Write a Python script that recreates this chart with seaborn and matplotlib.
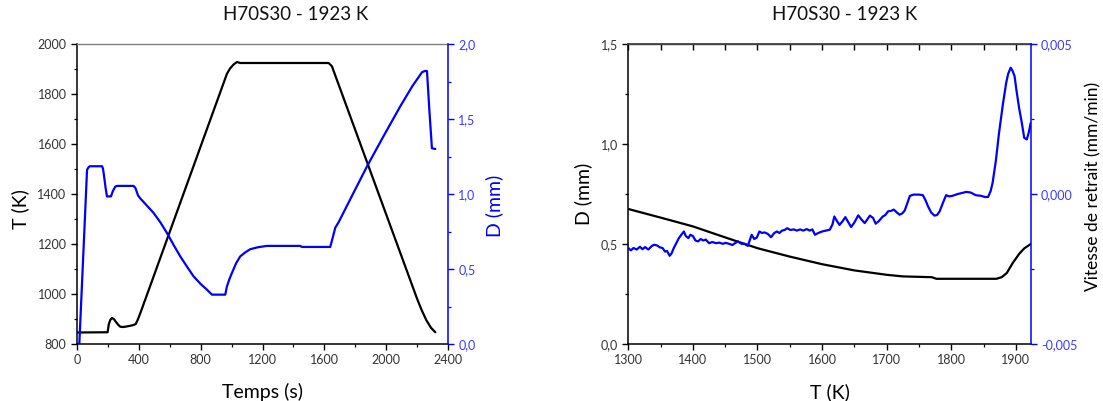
import numpy as np
import pandas as pd
import matplotlib
matplotlib.use("Agg")
import matplotlib.pyplot as plt
import seaborn as sns
from matplotlib.ticker import MultipleLocator, FuncFormatter

# ---------------- data ----------------
# Left panel: temperature vs time
time_T = [0, 198, 206, 216, 226, 238, 250, 265, 280, 300, 320, 345, 366, 380, 395, 410,
          970, 990, 1013, 1035, 1056, 1628, 1649, 2200, 2230, 2260, 2290, 2318]
temp_T = [846, 847, 880, 897, 904, 900, 890, 878, 869, 868, 870, 873, 876, 880, 900, 924,
          1881, 1902, 1918, 1928, 1924, 1924, 1911, 981, 935, 895, 865, 847]

# Left panel: displacement D vs time
time_D = [10, 15, 40, 65, 75, 82, 162, 168, 175, 185, 194, 220, 232, 248, 262, 366, 378, 395,
          409, 450, 496, 540, 582, 625, 668, 712, 754, 800, 841, 873, 959, 970, 985, 1002,
          1030, 1056, 1090, 1121, 1170, 1229, 1444, 1455, 1638, 1652, 1671, 1693, 1780,
          1876, 1980, 2091, 2170, 2232, 2250, 2264, 2280, 2296, 2318]
D_time = [0.0, 0.0, 0.58, 1.162, 1.178, 1.185, 1.185, 1.17, 1.12, 1.04, 0.984, 0.984, 1.02,
          1.05, 1.054, 1.054, 1.04, 0.99, 0.971, 0.925, 0.873, 0.81, 0.74, 0.66, 0.584,
          0.515, 0.451, 0.40, 0.362, 0.329, 0.329, 0.384, 0.43, 0.473, 0.54, 0.584, 0.612,
          0.632, 0.645, 0.654, 0.654, 0.647, 0.647, 0.70, 0.776, 0.813, 0.99, 1.184, 1.38,
          1.584, 1.72, 1.812, 1.82, 1.82, 1.55, 1.305, 1.30]

# Right panel: D vs T
T_D = [1300, 1350, 1400, 1450, 1500, 1550, 1600, 1650, 1700, 1725, 1770, 1777, 1800, 1870,
       1878, 1886, 1895, 1905, 1913, 1923]
D_T = [0.675, 0.632, 0.588, 0.533, 0.479, 0.437, 0.399, 0.368, 0.346, 0.338, 0.334, 0.326,
       0.326, 0.326, 0.334, 0.355, 0.404, 0.45, 0.478, 0.50]

# Right panel: shrinkage rate vs T (values in 1e-3 mm/min)
T_rate = [1300, 1304, 1308, 1313, 1318, 1322, 1326, 1331, 1336, 1340, 1345, 1349, 1353, 1357,
          1360, 1364, 1367, 1370, 1374, 1378, 1382, 1386, 1389, 1393, 1396, 1400, 1404, 1408,
          1412, 1416, 1420, 1425, 1430, 1436, 1441, 1446, 1451, 1456, 1461, 1466, 1470, 1475,
          1480, 1485, 1488, 1491, 1495, 1499, 1503, 1507, 1511, 1516, 1521, 1526, 1530, 1534,
          1538, 1542, 1546, 1551, 1556, 1561, 1566, 1571, 1576, 1581, 1585, 1589, 1594, 1600,
          1606, 1612, 1616, 1619, 1623, 1627, 1632, 1636, 1640, 1645, 1650, 1656, 1661, 1666,
          1670, 1674, 1679, 1683, 1688, 1694, 1698, 1702, 1707, 1711, 1716, 1720, 1724, 1728,
          1732, 1736, 1742, 1750, 1756, 1760, 1764, 1769, 1774, 1778, 1782, 1787, 1792, 1797,
          1802, 1810, 1818, 1823, 1830, 1838, 1846, 1852, 1857, 1861, 1864, 1869, 1874, 1880,
          1885, 1888, 1892, 1895, 1898, 1901, 1905, 1909, 1913, 1917, 1920, 1923]
rate_1e3 = [-1.80, -1.88, -1.80, -1.85, -1.76, -1.84, -1.77, -1.85, -1.74, -1.69, -1.72, -1.78,
            -1.80, -1.92, -1.90, -2.06, -1.98, -1.82, -1.65, -1.48, -1.36, -1.25, -1.40, -1.47,
            -1.36, -1.40, -1.55, -1.58, -1.50, -1.55, -1.52, -1.64, -1.60, -1.64, -1.62, -1.66,
            -1.63, -1.66, -1.70, -1.63, -1.58, -1.66, -1.66, -1.73, -1.55, -1.36, -1.50, -1.45,
            -1.25, -1.30, -1.28, -1.33, -1.44, -1.30, -1.25, -1.30, -1.22, -1.20, -1.14, -1.20,
            -1.18, -1.22, -1.18, -1.22, -1.17, -1.22, -1.18, -1.36, -1.30, -1.25, -1.22, -1.19,
            -1.02, -0.75, -0.90, -1.03, -0.90, -0.77, -0.92, -1.10, -0.95, -0.71, -0.85, -0.97,
            -0.85, -0.72, -0.80, -0.99, -0.90, -0.75, -0.70, -0.58, -0.56, -0.52, -0.62, -0.69,
            -0.65, -0.55, -0.30, -0.06, -0.02, -0.02, -0.04, -0.20, -0.41, -0.62, -0.72, -0.70,
            -0.58, -0.30, -0.04, -0.08, -0.06, 0.00, 0.04, 0.07, 0.05, -0.04, -0.06, -0.10,
            -0.10, 0.10, 0.37, 1.10, 2.04, 3.00, 3.70, 4.00, 4.21, 4.10, 3.93, 3.45, 2.87, 2.40,
            1.87, 1.82, 2.05, 2.37]

title = "H70S30 - 1923 K"

# ---------------- style ----------------
sns.set_theme(style="ticks")
plt.rcParams["font.family"] = ["Lato", "DejaVu Sans"]
BLUE = "#0000ff"
BLUE_TXT = "#3a3aff"
TICK_TXT = "#333333"
TICK_FS = 9
LAB_FS = 14

fig = plt.figure(figsize=(11.03, 4.01), dpi=100)
W, H = 1103, 401
ax1 = fig.add_axes([77 / W, 1 - 344 / H, 371 / W, 300 / H])
ax2 = fig.add_axes([628.3 / W, 1 - 344 / H, 402.4 / W, 300 / H])
ax1b = ax1.twinx()
ax2b = ax2.twinx()

comma1 = FuncFormatter(lambda v, p: f"{v:.1f}".replace(".", ","))
comma0 = FuncFormatter(lambda v, p: f"{v:.0f}")
comma3 = FuncFormatter(lambda v, p: f"{(0.0 if abs(v) < 1e-12 else v):.3f}".replace(".", ","))

# ---------------- left panel ----------------
df_T = pd.DataFrame({"t": time_T, "T": temp_T})
df_D = pd.DataFrame({"t": time_D, "D": D_time})
sns.lineplot(data=df_T, x="t", y="T", ax=ax1, color="black", lw=1.6, sort=False, estimator=None)
sns.lineplot(data=df_D, x="t", y="D", ax=ax1b, color=BLUE, lw=1.6, sort=False, estimator=None)

ax1.set_xlim(0, 2400)
ax1.set_ylim(800, 2000)
ax1b.set_ylim(0, 2.0)
ax1.xaxis.set_major_locator(MultipleLocator(400))
ax1.xaxis.set_minor_locator(MultipleLocator(200))
ax1.yaxis.set_major_locator(MultipleLocator(200))
ax1.yaxis.set_minor_locator(MultipleLocator(100))
ax1.yaxis.set_major_formatter(comma0)
ax1b.yaxis.set_major_locator(MultipleLocator(0.5))
ax1b.yaxis.set_minor_locator(MultipleLocator(0.25))
ax1b.yaxis.set_major_formatter(comma1)

ax1.set_xlabel("Temps (s)", fontsize=LAB_FS, color="black")
ax1.set_ylabel("T (K)", fontsize=LAB_FS, color="black")
ax1b.set_ylabel("D (mm)", fontsize=LAB_FS, color=BLUE)
ax1.xaxis.set_label_coords(0.5, -0.13)
ax1.yaxis.set_label_coords(-0.13, 0.45)
ax1b.yaxis.set_label_coords(1.10, 0.46)
ax1.set_title(title, fontsize=13.5, x=0.588, pad=17, color="#111111")

ax1.tick_params(which="both", direction="out", colors="black", labelcolor=TICK_TXT,
                labelsize=TICK_FS, top=False, right=False)
ax1.tick_params(which="major", length=4, width=1)
ax1.tick_params(which="minor", length=2.5, width=0.9)
ax1b.tick_params(which="both", direction="out", colors=BLUE, labelcolor=BLUE_TXT, labelsize=TICK_FS)
ax1b.tick_params(which="major", length=4, width=1)
ax1b.tick_params(which="minor", length=2.5, width=0.9)

for s in ("left", "bottom"):
    ax1.spines[s].set_color("black")
    ax1.spines[s].set_linewidth(1.1)
ax1.spines["top"].set_color("#808080")
ax1.spines["top"].set_linewidth(1.0)
ax1.spines["right"].set_visible(False)
for s in ("left", "bottom", "top"):
    ax1b.spines[s].set_visible(False)
ax1b.spines["right"].set_color(BLUE)
ax1b.spines["right"].set_linewidth(1.1)

# ---------------- right panel ----------------
df_DT = pd.DataFrame({"T": T_D, "D": D_T})
df_rate = pd.DataFrame({"T": T_rate, "rate": np.array(rate_1e3) * 1e-3})
sns.lineplot(data=df_DT, x="T", y="D", ax=ax2, color="black", lw=1.6, sort=False, estimator=None)
sns.lineplot(data=df_rate, x="T", y="rate", ax=ax2b, color=BLUE, lw=1.6, sort=False, estimator=None)

ax2.set_xlim(1300, 1923)
ax2.set_ylim(0, 1.5)
ax2b.set_ylim(-0.005, 0.005)
ax2.xaxis.set_major_locator(MultipleLocator(100))
ax2.xaxis.set_minor_locator(MultipleLocator(50))
ax2.yaxis.set_major_locator(MultipleLocator(0.5))
ax2.yaxis.set_minor_locator(MultipleLocator(0.25))
ax2.yaxis.set_major_formatter(comma1)
ax2b.yaxis.set_major_locator(MultipleLocator(0.005))
ax2b.yaxis.set_minor_locator(MultipleLocator(0.0025))
ax2b.yaxis.set_major_formatter(comma3)

ax2.set_xlabel("T (K)", fontsize=LAB_FS, color="black")
ax2.set_ylabel("D (mm)", fontsize=LAB_FS, color="black")
ax2b.set_ylabel("Vitesse de retrait (mm/min)", fontsize=12.5, color="black")
ax2.xaxis.set_label_coords(0.5, -0.13)
ax2.yaxis.set_label_coords(-0.09, 0.5)
ax2b.yaxis.set_label_coords(1.135, 0.525)
ax2.set_title(title, fontsize=13.5, x=0.537, pad=17, color="#111111")

ax2.tick_params(which="both", direction="out", colors="black", labelcolor=TICK_TXT,
                labelsize=TICK_FS, top=False, right=False)
ax2.tick_params(which="major", length=4, width=1)
ax2.tick_params(which="minor", length=2.5, width=0.9)
ax2b.tick_params(which="both", direction="out", colors=BLUE, labelcolor=BLUE_TXT, labelsize=TICK_FS)
ax2b.tick_params(which="major", length=4, width=1)
ax2b.tick_params(which="minor", length=2.5, width=0.9)

# inward ticks along the top edge every 50 K
sec = ax2.secondary_xaxis("top")
sec.set_xticks(np.arange(1300, 1901, 50))
sec.tick_params(direction="in", length=4, width=1, colors="black", labeltop=False)
sec.spines["top"].set_color("#404040")
sec.spines["top"].set_linewidth(1.0)

for s in ("left", "bottom"):
    ax2.spines[s].set_color("black")
    ax2.spines[s].set_linewidth(1.1)
ax2.spines["top"].set_color("#404040")
ax2.spines["right"].set_visible(False)
for s in ("left", "bottom", "top"):
    ax2b.spines[s].set_visible(False)
ax2b.spines["right"].set_color(BLUE)
ax2b.spines["right"].set_linewidth(1.1)

fig.savefig("out.png", dpi=100)
